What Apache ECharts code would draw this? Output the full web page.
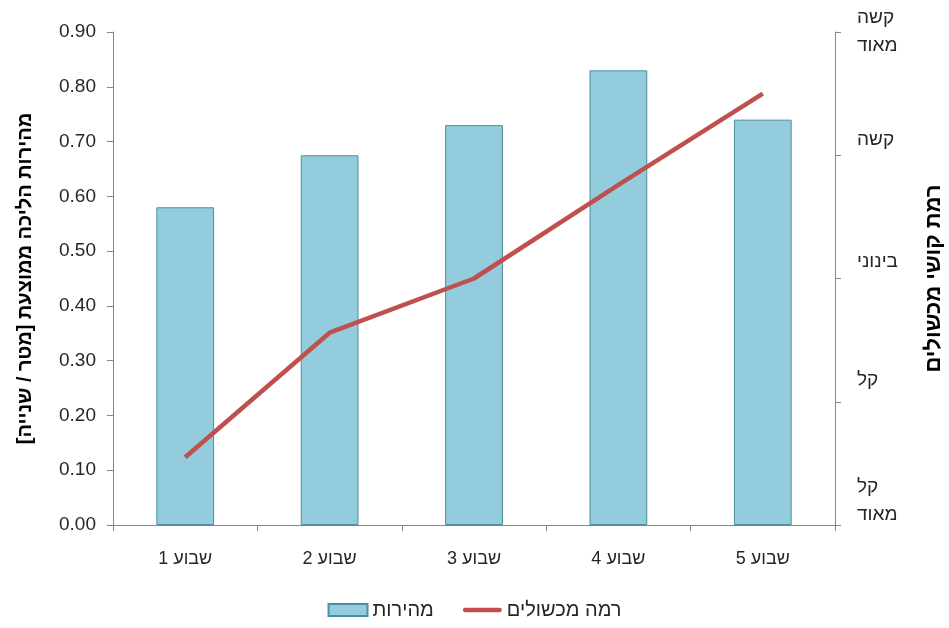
<!DOCTYPE html>
<html>
<head>
<meta charset="utf-8">
<script src="https://cdn.jsdelivr.net/npm/echarts@6/dist/echarts.min.js"></script>
<style>html,body{margin:0;padding:0;background:#fff}#c{width:949px;height:628px}</style>
</head>
<body>
<div id="c"></div>
<script>
const categories = ['שבוע 1', 'שבוע 2', 'שבוע 3', 'שבוע 4', 'שבוע 5'];
const speedValues = [0.58, 0.675, 0.73, 0.83, 0.74];
const obstacleValues = [1.55, 2.56, 3.0, 3.76, 4.5];
const difficultyLabels = ['קל\nמאוד', 'קל', 'בינוני', 'קשה', 'קשה\nמאוד'];
const difficultyLabelPos = [1.195, 2.176, 3.134, 4.124, 5];
const seriesNames = ['מהירות', 'רמה מכשולים'];
const leftTitle = 'מהירות הליכה ממוצעת [מטר / שנייה]';
const rightTitle = 'רמת קושי מכשולים';

const rtl = s => '\u202B' + s + '\u202C';
const FONT = '"Liberation Sans", Arial, "DejaVu Sans", sans-serif';
const axisGrey = '#868686';

const chart = echarts.init(document.getElementById('c'));
chart.setOption({
  animation: false,
  textStyle: { fontFamily: FONT },
  grid: { left: 113, right: 114, top: 32, bottom: 103, containLabel: false, outerBoundsMode: 'none' },
  legend: {
    bottom: 3,
    left: 'center',
    itemWidth: 39,
    itemHeight: 12,
    itemGap: 29,
    data: [
      { name: seriesNames[0], icon: 'rect' },
      { name: seriesNames[1], icon: 'path://M2.5,0 L42.5,0 A2.5,2.5 0 0 1 42.5,5 L2.5,5 A2.5,2.5 0 0 1 2.5,0 Z' }
    ],
    formatter: n => rtl(n),
    textStyle: { fontSize: 20, color: '#262626', fontFamily: FONT }
  },
  xAxis: {
    type: 'category',
    data: categories,
    axisLine: { lineStyle: { color: axisGrey, width: 1 } },
    axisTick: { show: true, alignWithLabel: false, length: 6, lineStyle: { color: axisGrey } },
    axisLabel: { formatter: v => rtl(v), fontSize: 18, color: '#262626', margin: 25, fontFamily: FONT }
  },
  yAxis: [
    {
      type: 'value',
      min: 0, max: 0.9, interval: 0.1,
      position: 'left',
      name: rtl(leftTitle),
      nameLocation: 'middle',
      nameRotate: 90,
      nameGap: 78,
      nameTextStyle: { fontSize: 20, fontWeight: 'bold', color: '#000', fontFamily: FONT },
      axisLine: { show: true, lineStyle: { color: axisGrey } },
      axisTick: { show: true, length: 6, lineStyle: { color: axisGrey } },
      splitLine: { show: false },
      axisLabel: { formatter: v => v.toFixed(2), fontSize: 19, color: '#262626', margin: 17, fontFamily: FONT }
    },
    {
      type: 'value',
      min: 1, max: 5, interval: 1,
      position: 'right',
      name: rtl(rightTitle),
      nameLocation: 'middle',
      nameRotate: 90,
      nameGap: 88,
      nameTextStyle: { fontSize: 22, fontWeight: 'bold', color: '#000', fontFamily: FONT },
      axisLine: { show: true, lineStyle: { color: axisGrey } },
      axisTick: { show: true, length: 6, lineStyle: { color: axisGrey } },
      splitLine: { show: false },
      axisLabel: {
        customValues: difficultyLabelPos,
        formatter: v => {
          let best = 0;
          for (let i = 0; i < difficultyLabelPos.length; i++) {
            if (Math.abs(difficultyLabelPos[i] - v) < Math.abs(difficultyLabelPos[best] - v)) best = i;
          }
          return difficultyLabels[best].split('\n').map(rtl).join('\n');
        },
        fontSize: 19, lineHeight: 28, color: '#262626', margin: 22, align: 'left', fontFamily: FONT
      }
    }
  ],
  series: [
    {
      name: seriesNames[0],
      type: 'bar',
      yAxisIndex: 0,
      data: speedValues,
      barWidth: '40%',
      itemStyle: { color: '#93CDDD', borderColor: '#4A8FA3', borderWidth: 1 }
    },
    {
      name: seriesNames[1],
      type: 'line',
      yAxisIndex: 1,
      data: obstacleValues,
      symbol: 'none',
      lineStyle: { color: '#C0504D', width: 4.5 },
      itemStyle: { color: '#C0504D' }
    }
  ]
});
</script>
</body>
</html>
